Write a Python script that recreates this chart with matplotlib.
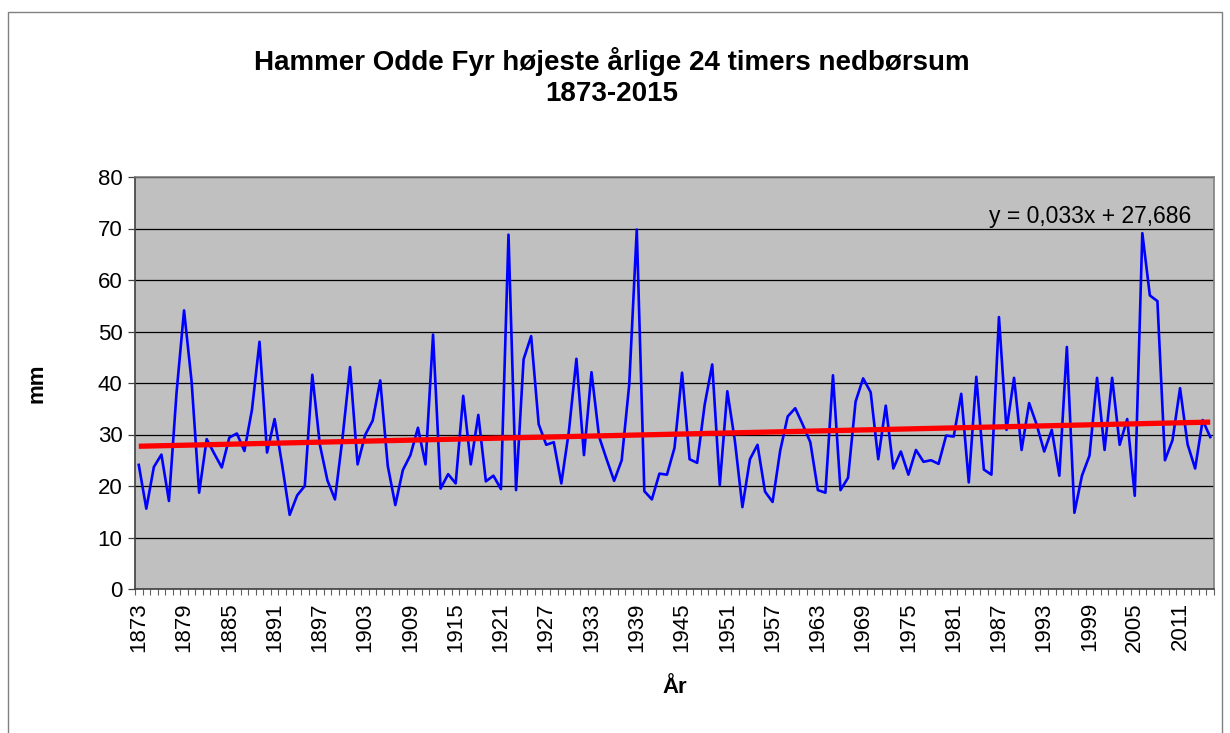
import numpy as np
import matplotlib
matplotlib.use("Agg")
import matplotlib.pyplot as plt
from matplotlib.patches import Rectangle

plt.rcParams['font.family'] = ['Liberation Sans', 'DejaVu Sans']

years = list(range(1873, 2016))
values = [
    24.1, 15.6, 23.7, 26.1, 17.1, 38.0, 54.1, 40.3, 18.7, 29.1,
    26.3, 23.6, 29.4, 30.2, 26.8, 34.8, 48.0, 26.5, 33.0, 24.1,
    14.4, 18.2, 20.0, 41.6, 28.0, 21.1, 17.4, 29.3, 43.1, 24.2,
    29.9, 32.7, 40.5, 23.9, 16.3, 23.1, 26.0, 31.3, 24.2, 49.4,
    19.5, 22.3, 20.5, 37.5, 24.2, 33.8, 20.9, 22.0, 19.4, 68.8,
    19.2, 44.6, 49.1, 32.0, 28.0, 28.5, 20.5, 30.6, 44.7, 26.0,
    42.1, 29.6, 25.2, 21.0, 25.0, 39.7, 69.8, 19.0, 17.4, 22.4,
    22.2, 27.4, 42.0, 25.2, 24.5, 35.8, 43.6, 20.2, 38.4, 28.8,
    15.9, 25.2, 28.0, 18.9, 16.9, 26.8, 33.5, 35.1, 31.9, 28.5,
    19.2, 18.7, 41.5, 19.2, 21.6, 36.4, 40.9, 38.2, 25.2, 35.6,
    23.4, 26.7, 22.2, 27.0, 24.7, 25.0, 24.3, 29.8, 29.6, 37.9,
    20.7, 41.2, 23.2, 22.2, 52.8, 30.9, 41.0, 27.0, 36.1, 31.9,
    26.7, 30.9, 22.0, 47.0, 14.8, 22.0, 25.9, 41.0, 27.0, 41.0,
    28.0, 33.0, 18.1, 69.1, 57.0, 55.9, 25.0, 28.9, 39.0, 28.1,
    23.4, 32.8, 29.5,
]
trend_slope = 0.033
trend_intercept = 27.686
title_text = "Hammer Odde Fyr højeste årlige 24 timers nedbørsum\n1873-2015"
equation_text = "y = 0,033x + 27,686"
label_step = 6

W, H = 1230, 733
fig = plt.figure(figsize=(W / 100, H / 100), dpi=100)
fig.patch.set_facecolor('white')

# chart-area border
fig.patches.append(Rectangle((8 / W, -0.02), 1214 / W, (H - 12) / H + 0.02,
                             transform=fig.transFigure, fill=False,
                             edgecolor='#808080', linewidth=1.0))

ax = fig.add_axes([135 / W, 1 - 589 / H, (1214 - 135) / W, (589 - 177) / H])
ax.set_facecolor('#C0C0C0')

idx = np.arange(len(years))
ax.plot(idx, values, color='#0000FF', linewidth=1.9, zorder=3)
x_num = idx + 1
trend = trend_slope * x_num + trend_intercept
ax.plot(idx, trend, color='#FF0000', linewidth=3.8, zorder=4, solid_capstyle='butt')

ax.set_xlim(-0.5, len(years) - 0.5)
ax.set_ylim(0, 80)
ax.set_yticks(range(0, 81, 10))
ax.yaxis.grid(True, color='black', linewidth=0.9)
ax.set_axisbelow(True)

lab_idx = idx[::label_step]
ax.set_xticks(lab_idx)
ax.set_xticklabels([str(years[i]) for i in lab_idx], rotation=90)
ax.set_xticks(np.arange(len(years) + 1) - 0.5, minor=True)
ax.tick_params(axis='x', which='major', length=0, pad=9.5, labelsize=16)
ax.tick_params(axis='x', which='minor', length=4, width=0.8, color='#606060')
ax.tick_params(axis='y', which='major', length=5, width=0.9, color='#404040', labelsize=16, pad=4)

for s in ax.spines.values():
    s.set_color('#808080')
    s.set_linewidth(1.2)
ax.spines['left'].set_color('#404040')
ax.spines['bottom'].set_color('#404040')

ax.set_ylabel('mm', fontsize=16, fontweight='bold', labelpad=36)
ax.set_xlabel('År', fontsize=16, fontweight='bold', labelpad=18)

ax.text(0.979, 0.905, equation_text, transform=ax.transAxes, ha='right', va='center',
        fontsize=16.5, color='black')

fig.text(612 / W, 1 - 77 / H, title_text, ha='center', va='center', fontsize=20,
         fontweight='bold', linespacing=1.25)

fig.savefig('out.png', dpi=100)
